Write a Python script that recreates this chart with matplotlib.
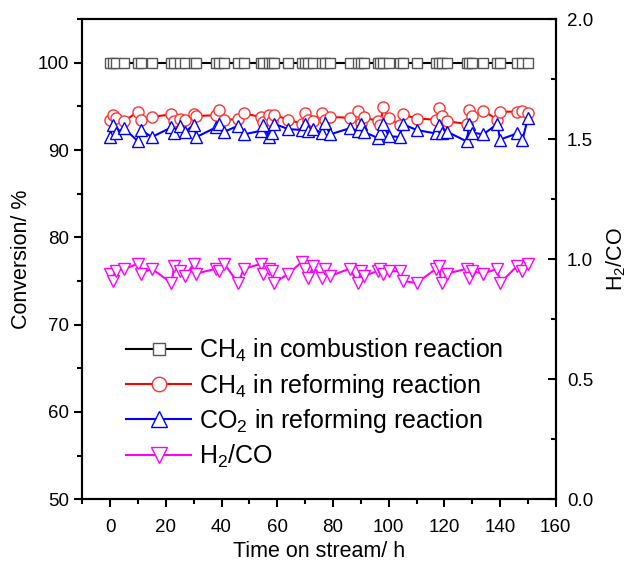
import matplotlib
matplotlib.use("Agg")
import matplotlib.pyplot as plt
from matplotlib.ticker import MultipleLocator

plt.rcParams['font.family'] = ['Liberation Sans', 'DejaVu Sans']
plt.rcParams['mathtext.fontset'] = 'custom'
plt.rcParams['mathtext.rm'] = 'Liberation Sans'

time_h = [0, 1, 2, 5, 10, 11, 15, 22, 23, 25, 27, 30, 31, 38, 39, 41, 46, 48, 54, 55,
          57, 58, 59, 64, 69, 70, 71, 73, 76, 77, 79, 86, 89, 90, 91, 96, 97, 98, 100,
          104, 105, 110, 117, 118, 119, 121, 128, 129, 130, 134, 139, 140, 146, 148, 150]

ch4_combustion = [100.0] * len(time_h)

ch4_reforming = [93.5, 94.0, 93.7, 93.3, 94.4, 93.5, 93.8, 94.1, 93.3, 93.6, 93.4, 94.1,
                 93.9, 94.0, 94.6, 93.4, 93.6, 94.2, 93.8, 93.2, 94.0, 93.3, 94.0, 93.5,
                 93.0, 94.2, 93.4, 93.3, 94.2, 93.5, 93.8, 93.7, 94.5, 93.1, 93.8, 93.3,
                 92.9, 94.9, 93.7, 92.9, 94.1, 93.6, 93.5, 94.8, 93.9, 93.3, 93.0, 94.6,
                 93.9, 94.5, 93.5, 94.4, 94.4, 94.5, 94.2]

co2_reforming = [91.5, 92.9, 92.0, 92.5, 91.0, 92.3, 91.5, 92.6, 92.0, 92.8, 92.1, 92.9,
                 91.5, 92.6, 93.0, 92.1, 92.8, 91.8, 92.2, 92.9, 91.5, 92.0, 93.0, 92.4,
                 92.3, 93.0, 92.2, 92.4, 92.0, 93.1, 91.8, 92.5, 92.2, 93.0, 92.1, 91.4,
                 92.0, 93.0, 91.6, 91.5, 93.0, 92.3, 91.9, 92.9, 92.0, 92.1, 91.0, 93.0,
                 92.0, 91.8, 93.0, 91.2, 91.9, 91.1, 93.7]

h2_co = [0.94, 0.91, 0.95, 0.96, 0.98, 0.94, 0.96, 0.90, 0.97, 0.95, 0.93, 0.98, 0.94,
         0.96, 0.95, 0.98, 0.90, 0.96, 0.98, 0.94, 0.96, 0.95, 0.90, 0.94, 0.99, 0.96,
         0.92, 0.97, 0.92, 0.96, 0.93, 0.96, 0.90, 0.95, 0.93, 0.95, 0.96, 0.94, 0.95,
         0.95, 0.91, 0.90, 0.96, 0.97, 0.90, 0.94, 0.96, 0.92, 0.95, 0.94, 0.96, 0.90,
         0.97, 0.95, 0.98]

labels = [r'CH$_4$ in combustion reaction', r'CH$_4$ in reforming reaction',
          r'CO$_2$ in reforming reaction', r'H$_2$/CO']

fig = plt.figure(figsize=(6.28, 5.64), dpi=100)
ax = fig.add_axes([0.131, 0.115, 0.754, 0.851])
ax2 = ax.twinx()

common = dict(lw=1.5, mew=1.0, mfc='white')
l1, = ax.plot(time_h, ch4_combustion, color='black', marker='s', ms=7, mec='#555555', label=labels[0], **common)
l2, = ax.plot(time_h, ch4_reforming, color='red', marker='o', ms=8, mec='#ff3333', label=labels[1], **common)
l3, = ax.plot(time_h, co2_reforming, color='blue', marker='^', ms=9, mec='blue', label=labels[2], **common)
l4, = ax2.plot(time_h, h2_co, color='magenta', marker='v', ms=9, mec='magenta', label=labels[3], **common)

ax.set_xlim(-10, 160)
ax.set_ylim(50, 105)
ax2.set_ylim(0, 2.0)

ax.xaxis.set_major_locator(MultipleLocator(20))
ax.xaxis.set_minor_locator(MultipleLocator(10))
ax.yaxis.set_major_locator(MultipleLocator(10))
ax.yaxis.set_minor_locator(MultipleLocator(5))
ax2.yaxis.set_major_locator(MultipleLocator(0.5))
ax2.yaxis.set_minor_locator(MultipleLocator(0.25))

ax.tick_params(axis='both', which='major', direction='out', length=6, width=1.5, labelsize=13.5)
ax.tick_params(axis='x', which='major', pad=8)
ax.tick_params(axis='both', which='minor', direction='out', length=3.5, width=1.5)
ax.tick_params(axis='x', top=False, which='both')
ax2.tick_params(axis='y', which='major', direction='in', length=6, width=1.5, labelsize=13.5, pad=8)
ax2.tick_params(axis='y', which='minor', direction='in', length=3.5, width=1.5)

for a in (ax, ax2):
    for s in a.spines.values():
        s.set_linewidth(1.5)

ax.set_xlabel('Time on stream/ h', fontsize=15.5, labelpad=4)
ax.set_ylabel('Conversion/ %', fontsize=15.5)
ax2.set_ylabel(r'H$_2$/CO', fontsize=15.5, labelpad=8)

leg = ax.legend(handles=[l1, l2, l3, l4], loc='lower left', bbox_to_anchor=(0.072, 0.04),
                frameon=False, fontsize=18, handlelength=2.6, markerscale=1.3,
                labelspacing=0.3, handletextpad=0.3, borderaxespad=0)

fig.savefig('out.png', dpi=100)
